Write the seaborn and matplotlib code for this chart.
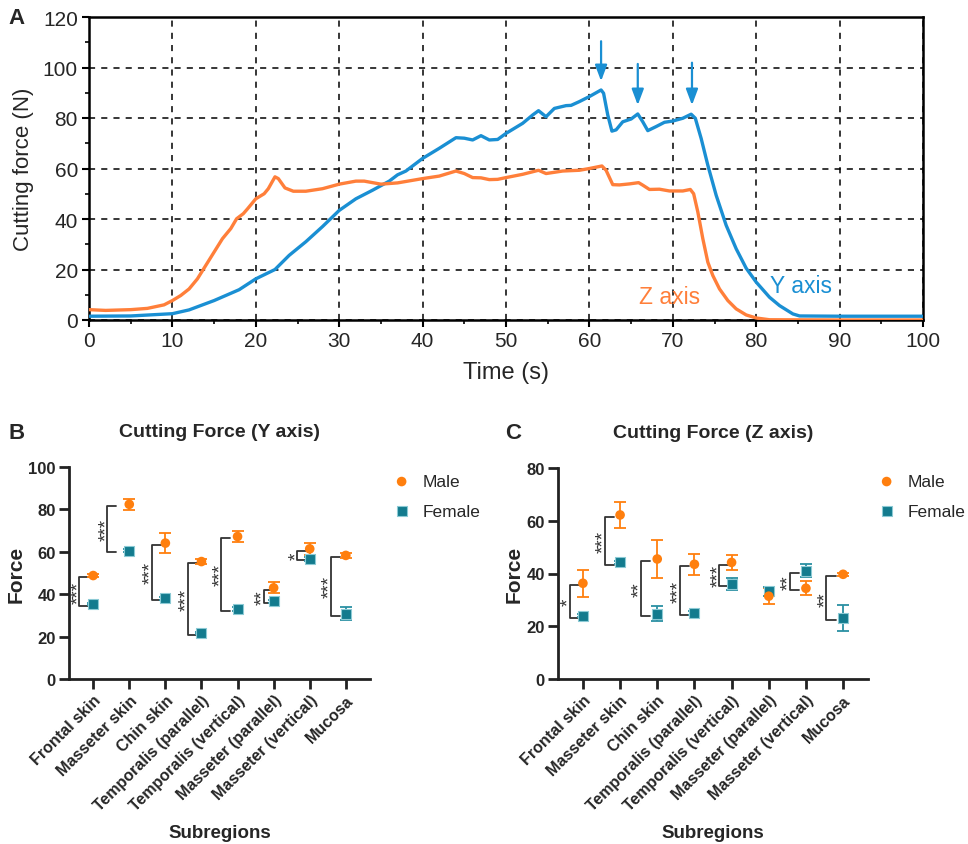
import numpy as np
import pandas as pd
import matplotlib
matplotlib.use("Agg")
import matplotlib.pyplot as plt
import seaborn as sns

# ===== Panel A data: cutting force over time =====
t_y = [0, 5, 10, 12, 15, 18, 20, 22.3, 24, 26, 28, 30, 32, 34, 36, 37, 38, 40, 42, 44,
       45, 46, 47, 48, 49, 50, 52, 53.2, 53.9, 54.8, 55.8, 57.2, 57.8, 58.8, 60, 61.4,
       61.7, 62.2, 62.7, 63.2, 64, 65, 65.8, 66.4, 67, 68, 69, 70, 71.2, 72.2, 72.7,
       73.4, 74.2, 75.2, 76.4, 77.6, 78.8, 80, 81.6, 82.8, 84.4, 85.2, 90, 100]
f_y = [1.5, 1.6, 2.5, 4, 7.7, 12, 16.3, 20, 25.6, 31, 37, 43.4, 48, 51.4, 55, 57.5, 59,
       64, 68, 72.2, 72, 71.3, 73, 71.3, 71.5, 73.9, 77.9, 81.2, 82.9, 80.5, 83.8, 84.9,
       85, 86.5, 88.5, 91.1, 89.8, 81.2, 74.8, 75.3, 78.5, 79.6, 81.6, 78.5, 75, 76.6,
       78.3, 78.8, 79.9, 81.5, 79.9, 71.9, 61.3, 49.4, 37.5, 28.2, 20.5, 15, 9, 5.7,
       2.4, 1.6, 1.5, 1.5]
t_z = [0, 2, 5, 7, 9, 10, 11, 12, 13, 14, 15, 16, 17, 17.7, 18.5, 19, 20, 21, 21.5,
       22.3, 22.7, 23.5, 24.5, 26, 28, 30, 32, 33, 35, 37, 40, 42, 44, 45, 46, 47, 48,
       49, 50, 52, 53.9, 54.8, 56.8, 58.8, 60, 61.5, 62, 62.8, 63.6, 64.8, 65.9, 66.4,
       67.2, 68.4, 69.6, 71.2, 72.1, 72.5, 73, 73.6, 74.2, 74.8, 75.6, 76.6, 77.6,
       78.8, 80, 81.6, 90, 100]
f_z = [4.1, 3.8, 4.1, 4.6, 6, 7.7, 9.7, 12.3, 16.3, 21.6, 26.9, 32.2, 36.2, 40.1, 42.1,
       44, 48, 50, 52, 56.7, 56, 52.3, 51, 51, 52, 53.8, 55, 55, 53.8, 54.3, 56, 57, 59,
       58, 56.4, 56.3, 55.6, 55.7, 56.4, 57.7, 59.3, 58, 59, 59.3, 60, 61, 59.3, 53.6,
       53.5, 53.9, 54.4, 53.4, 51.7, 51.8, 51.1, 51.1, 51.7, 50, 42.8, 32.2, 22.9,
       17.6, 12.3, 7.7, 4.4, 2, 0.8, 0.1, 0, 0]
# arrows marking the breaking points on the Y axis curve
arrow_t = [61.4, 65.8, 72.3]
arrow_top = [111.5, 102.5, 103]
arrow_tip = [93.5, 84, 84]

# ===== Panels B, C data =====
regions = ["Frontal skin", "Masseter skin", "Chin skin", "Temporalis (parallel)",
           "Temporalis (vertical)", "Masseter (parallel)", "Masseter (vertical)", "Mucosa"]

y_male = [48.8, 82.4, 64.1, 55.4, 67.2, 43.0, 61.4, 58.3]
y_male_err = [0.6, 2.5, 4.7, 1.0, 2.6, 2.6, 2.7, 1.2]
y_female = [35.4, 60.5, 38.1, 21.6, 33.1, 36.7, 56.7, 30.7]
y_female_err = [0.5, 0.6, 0.6, 0.6, 0.8, 0.7, 1.0, 3.1]
y_stars = ["***", "***", "***", "***", "***", "**", "*", "***"]

z_male = [36.3, 62.2, 45.5, 43.5, 44.2, 31.4, 34.4, 39.7]
z_male_err = [5.1, 4.9, 7.3, 3.9, 2.7, 3.0, 2.7, 0.6]
z_female = [24.0, 44.2, 24.7, 25.0, 36.0, 33.2, 41.1, 23.1]
z_female_err = [0.6, 0.6, 2.8, 0.6, 2.2, 1.8, 2.5, 5.0]
z_stars = ["*", "***", "**", "***", "***", "", "**", "**"]

# bracket x offsets (relative to category)
y_br_off = [-0.38, -0.61, -0.37, -0.38, -0.45, -0.28, -0.34, -0.41]
z_br_off = [-0.36, -0.41, -0.44, -0.40, -0.33, 0, -0.43, -0.45]

ORANGE_LINE = "#FF7F3A"
BLUE_LINE = "#1A8FD3"
MALE_C = "#FF7F0E"
FEMALE_C = "#137B8E"

sns.set_theme(style="ticks")
plt.rcParams["font.family"] = ["Liberation Sans", "DejaVu Sans"]

fig = plt.figure(figsize=(9.68, 8.45), dpi=100)
W, H = 968, 845


def box(l, t, r, b):
    return [l / W, 1 - b / H, (r - l) / W, (b - t) / H]


# ===== 1. Panel A =====
axA = fig.add_axes(box(89, 18, 923, 321))
dfA = pd.concat([
    pd.DataFrame({"time": t_y, "force": f_y, "axis": "Y axis"}),
    pd.DataFrame({"time": t_z, "force": f_z, "axis": "Z axis"}),
])
sns.lineplot(data=dfA, x="time", y="force", hue="axis", estimator=None, sort=False,
             palette={"Y axis": BLUE_LINE, "Z axis": ORANGE_LINE}, linewidth=2.4,
             legend=False, ax=axA, zorder=3)
axA.set_xlim(0, 100)
axA.set_ylim(0, 120)
axA.set_xticks(range(0, 101, 10))
axA.set_yticks(range(0, 121, 20))
axA.set_xticks(range(5, 100, 10), minor=True)
axA.set_yticks(range(10, 120, 20), minor=True)
axA.grid(True, which="major", color="black", linestyle=(0, (4, 4)), linewidth=1.1)
for s in axA.spines.values():
    s.set_linewidth(1.8)
    s.set_color("black")
axA.tick_params(which="major", length=5, width=1.5, labelsize=15, color="black",
                pad=3)
axA.tick_params(which="minor", length=3, width=1.2, color="black")
axA.set_xlabel("Time (s)", fontsize=17, labelpad=8)
axA.set_ylabel("Cutting force (N)", fontsize=16, labelpad=6)
for xt, top, tip in zip(arrow_t, arrow_top, arrow_tip):
    axA.annotate("", xy=(xt, tip), xytext=(xt, top),
                 arrowprops=dict(arrowstyle="-|>,head_width=0.3,head_length=0.8",
                                 color=BLUE_LINE, lw=1.6))
axA.text(66.0, 9.3, "Z axis", color=ORANGE_LINE, fontsize=16.5, va="center", ha="left")
axA.text(81.6, 13.6, "Y axis", color=BLUE_LINE, fontsize=16.5, va="center", ha="left")
fig.text(8 / W, 1 - 18 / H, "A", fontsize=16, fontweight="bold", va="center")


# ===== 2. Panels B and C =====
def sex_panel(rect, male, male_err, female, female_err, stars, offs, ymax, title,
              letter, letter_x, legend_x):
    ax = fig.add_axes(rect)
    df_m = pd.DataFrame({"region": regions, "force": male})
    df_f = pd.DataFrame({"region": regions, "force": female})
    x = np.arange(len(regions))
    ax.errorbar(x, male, yerr=male_err, fmt="none", ecolor=MALE_C, elinewidth=1.3,
                capsize=4, capthick=1.3, zorder=2)
    ax.errorbar(x, female, yerr=female_err, fmt="none", ecolor="#2A90A3",
                elinewidth=1.3, capsize=4, capthick=1.3, zorder=2)
    sns.scatterplot(data=df_f, x="region", y="force", marker="s", color=FEMALE_C,
                    s=42, edgecolor="#8CCAD5", linewidth=0.8, label="Female", ax=ax,
                    zorder=3)
    sns.scatterplot(data=df_m, x="region", y="force", marker="o", color=MALE_C,
                    s=48, edgecolor="none", linewidth=0, label="Male", ax=ax, zorder=4)
    for i, (m, f, st, off) in enumerate(zip(male, female, stars, offs)):
        if not st:
            continue
        top, bot = m - 0.8, f - 0.8
        xl = i + off
        xa = xl + 0.25
        ax.plot([xa, xl, xl, xa], [top, top, bot, bot], color="#333333", lw=1.3,
                zorder=1)
        ax.text(xl - 0.03, (top + bot) / 2, st, rotation=90, ha="center",
                va="center", fontsize=13.5, color="#333333", clip_on=False, zorder=5)
    ax.set_xlim(-0.67, len(regions) - 0.33)
    ax.set_ylim(0, ymax)
    ax.set_yticks(range(0, ymax + 1, 20))
    sns.despine(ax=ax)
    for s in ["left", "bottom"]:
        ax.spines[s].set_linewidth(2)
        ax.spines[s].set_color("#222222")
    ax.tick_params(length=7.5, width=2, color="#222222", pad=2)
    ax.set_xticks(x)
    ax.set_xticklabels(regions, rotation=45, ha="right", rotation_mode="anchor",
                       fontsize=11.5, fontweight="bold")
    for lab in ax.get_yticklabels():
        lab.set_fontweight("bold")
        lab.set_fontsize(12)
    ax.set_xlabel("Subregions", fontsize=13.5, fontweight="bold", labelpad=8)
    ax.set_ylabel("Force", fontsize=15, fontweight="bold", labelpad=2)
    ax.set_title(title, fontsize=14, fontweight="bold", pad=22)
    h, l = ax.get_legend_handles_labels()
    order = [l.index("Male"), l.index("Female")]
    ax.legend([h[k] for k in order], [l[k] for k in order], loc="upper left",
              bbox_to_anchor=(legend_x / W, 1 - 468 / H),
              bbox_transform=fig.transFigure, frameon=False, fontsize=12.5,
              handlelength=1.0, handletextpad=0.7, labelspacing=0.85,
              borderaxespad=0)
    fig.text(letter_x / W, 1 - 434 / H, letter, fontsize=16, fontweight="bold",
             va="center")
    return ax


sex_panel(box(69, 468, 370, 680), y_male, y_male_err, y_female, y_female_err,
          y_stars, y_br_off, 100, "Cutting Force (Y axis)", "B", 8, 386)
sex_panel(box(558, 469, 868, 680), z_male, z_male_err, z_female, z_female_err,
          z_stars, z_br_off, 80, "Cutting Force (Z axis)", "C", 505, 871)

plt.savefig("out.png", dpi=100)
plt.close()
